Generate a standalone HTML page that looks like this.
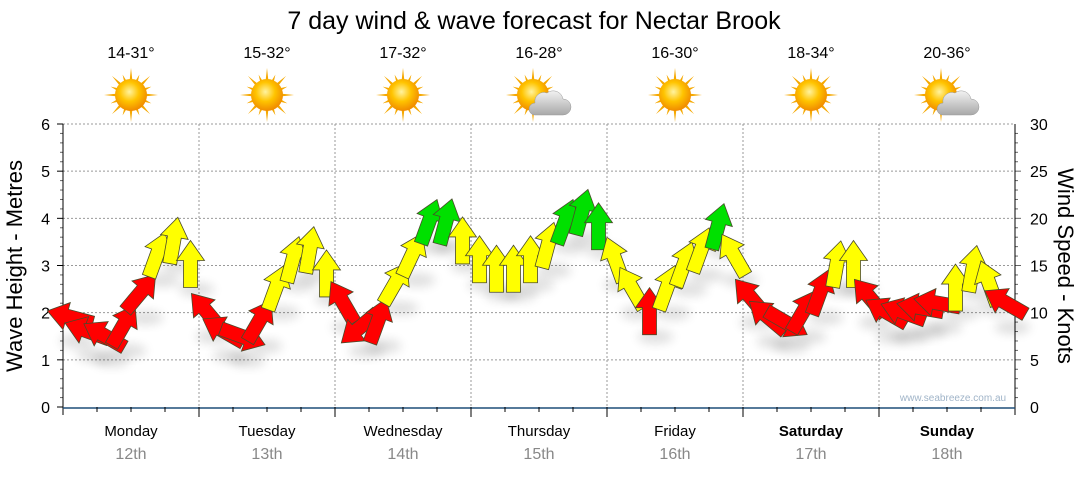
<!DOCTYPE html>
<html><head><meta charset="utf-8"><style>
body{margin:0;background:#fff;font-family:"Liberation Sans","DejaVu Sans",sans-serif}
svg text{font-family:"Liberation Sans","DejaVu Sans",sans-serif}
</style></head><body>
<svg id="c" width="1080" height="475" xmlns="http://www.w3.org/2000/svg">
<defs>
<radialGradient id="sun" cx="45%" cy="40%" r="60%"><stop offset="0" stop-color="#fff3a0"/><stop offset="0.5" stop-color="#ffc400"/><stop offset="1" stop-color="#f08a00"/></radialGradient>
<linearGradient id="cloud" x1="0" y1="0" x2="0" y2="1"><stop offset="0" stop-color="#f2f2f2"/><stop offset="1" stop-color="#a8a8a8"/></linearGradient>
<filter id="sh" x="-50%" y="-50%" width="200%" height="200%"><feGaussianBlur stdDeviation="5"/></filter>
</defs>
<text x="534" y="29" font-size="25" text-anchor="middle" fill="#000">7 day wind &amp; wave forecast for Nectar Brook</text>
<g id="grid"></g>
<g id="axes"></g>
<g id="icons"></g>
<g id="shadows"></g>
<g id="arrows"></g>
<text x="953" y="401" font-size="10" fill="#a0b4c8" text-anchor="middle">www.seabreeze.com.au</text>
<text transform="translate(22,266) rotate(-90)" font-size="22" text-anchor="middle">Wave Height - Metres</text>
<text transform="translate(1058,266) rotate(90)" font-size="22" text-anchor="middle">Wind Speed - Knots</text>
</svg>
<script>
const days=["Monday","Tuesday","Wednesday","Thursday","Friday","Saturday","Sunday"];
const dates=["12th","13th","14th","15th","16th","17th","18th"];
const temps=["14-31°","15-32°","17-32°","16-28°","16-30°","18-34°","20-36°"];
const cloudy=[0,0,0,1,0,0,1];
const leftTicks=[0,1,2,3,4,5,6];
const rightTicks=[0,5,10,15,20,25,30];
const windSpeed=[9.5,8,7.5,8.5,12,16,17.5,15, 10,8,7.5,9,12.5,15.5,16.5,14, 11,8.5,9,13,16,19.5,19.5,17.5, 15.5,14.5,14.5,15.5,17,19.5,20.5,19, 15.5,12.5,10,12.5,15,16.5,19,16, 11.5,9.5,9,10,12,15,15,11.5, 10,10,10.5,11,12.5,14.5,13,11];
const windDir=[-75,-70,-60,30,40,20,10,0, -40,-60,110,30,20,15,10,0, -30,-130,20,30,25,20,15,0, 0,0,0,0,15,20,15,0, -20,-30,0,20,20,20,15,-30, -40,-50,120,30,20,10,0,-40, -60,-70,-80,-80,0,10,-20,-60];
const NS="http://www.w3.org/2000/svg";
const X0=63,X1=1015,Y0=407,Y1=124;
const xDay=d=>X0+(X1-X0)/7*d;
const yM=m=>Y0-(Y0-Y1)*m/6;
const yK=k=>Y0-(Y0-Y1)*k/30;
const xIdx=i=>X0+(X1-X0)/56*(i+0.5);
function mk(tag,attrs,parent){const e=document.createElementNS(NS,tag);for(const k in attrs)e.setAttribute(k,attrs[k]);parent.appendChild(e);return e;}
const grid=document.getElementById('grid'),axes=document.getElementById('axes'),icons=document.getElementById('icons'),arrows=document.getElementById('arrows'),shadows=document.getElementById('shadows');
leftTicks.forEach(m=>{if(m>0){const l=mk('line',{x1:X0,x2:X1,y1:yM(m),y2:yM(m),stroke:'#999','stroke-dasharray':'2,2'},grid);}
 const t=mk('text',{x:50,y:yM(m)+6,'font-size':16,'text-anchor':'end'},axes);t.textContent=m;
 mk('line',{x1:X0-6,x2:X0,y1:yM(m),y2:yM(m),stroke:'#000'},axes);});
for(let i=1;i<30;i++){if(i%5)mk('line',{x1:X0-3,x2:X0,y1:yK(i),y2:yK(i),stroke:'#666'},axes);mk('line',{x1:X1,x2:X1+(i%5?3:6),y1:yK(i),y2:yK(i),stroke:'#666'},axes);}
rightTicks.forEach(k=>{const t=mk('text',{x:1030,y:yK(k)+6,'font-size':16},axes);t.textContent=k;});
for(let d=1;d<7;d++){const l=mk('line',{x1:xDay(d),x2:xDay(d),y1:Y1,y2:Y0,stroke:'#999','stroke-dasharray':'2,2'},grid);}
mk('line',{x1:X0,x2:X0,y1:Y1,y2:Y0+8,stroke:'#000'},axes);
mk('line',{x1:X1,x2:X1,y1:Y1,y2:Y0+8,stroke:'#000'},axes);
mk('line',{x1:X0,x2:X1,y1:Y0+1,y2:Y0+1,stroke:'#1f4e79','stroke-width':1.5},axes);
for(let q=1;q<28;q++){const x=X0+(X1-X0)/28*q;mk('line',{x1:x,x2:x,y1:Y0,y2:Y0+(q%4?5:10),stroke:'#000'},axes);}
days.forEach((d,i)=>{const cx=(xDay(i)+xDay(i+1))/2;
 const t=mk('text',{x:cx,y:436,'font-size':15,'text-anchor':'middle','font-weight':i>=5?'bold':'normal'},axes);t.textContent=d;
 const t2=mk('text',{x:cx,y:459,'font-size':16,'text-anchor':'middle',fill:'#888'},axes);t2.textContent=dates[i];
 const t3=mk('text',{x:cx,y:58,'font-size':16,'text-anchor':'middle'},icons);t3.textContent=temps[i];
 const g=mk('g',{transform:`translate(${cx-(cloudy[i]?6:0)},95)`},icons);
 for(let r=0;r<16;r++){const a=r*Math.PI/8,L=r%2?22:27;mk('polygon',{points:`${Math.cos(a-0.12)*13},${Math.sin(a-0.12)*13} ${Math.cos(a)*L},${Math.sin(a)*L} ${Math.cos(a+0.12)*13},${Math.sin(a+0.12)*13}`,fill:'#f5a800'},g);}
 mk('circle',{r:16,fill:'url(#sun)'},g);
 if(cloudy[i]){mk('path',{d:'M2,20 h28 a8,8 0 0 0 0,-16 a10,10 0 0 0 -16,-6 a9,9 0 0 0 -12,10 a6,6 0 0 0 0,12z',fill:'url(#cloud)',stroke:'#999','stroke-width':0.5},g);}
});
const arrowPts="0,-25 14,-5 7,-5 7,22 -7,22 -7,-5 -14,-5";
function col(k){return k>=19?'#00e000':k>=12.5?'#ffff00':'#ff0000';}
windSpeed.forEach((k,i)=>{const x=xIdx(i),y=yK(k);
 mk('ellipse',{cx:x+6,cy:y+24,rx:18,ry:7,fill:'#000',opacity:0.12,filter:'url(#sh)'},shadows);
 const p=mk('polygon',{points:arrowPts,transform:`translate(${x},${y}) rotate(${windDir[i]})`,fill:col(k),stroke:'#4a4a2a','stroke-width':0.8},arrows);
 
 
});
</script>
</body></html>
